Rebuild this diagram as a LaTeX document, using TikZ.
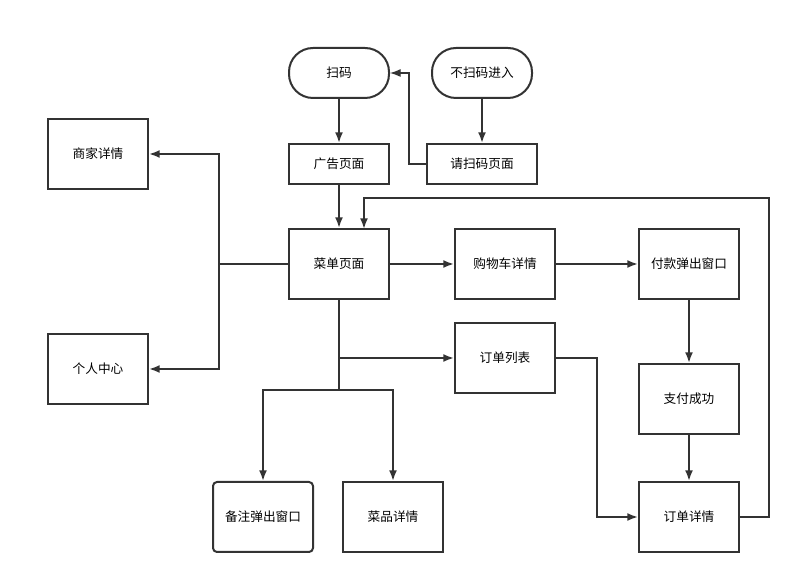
\documentclass[tikz,border=0pt]{standalone}
\usepackage{fontspec}
\setmainfont{Noto Sans CJK SC}
\usetikzlibrary{arrows.meta}

\begin{document}
\begin{tikzpicture}[x=0.75pt,y=-0.75pt,>={Latex[length=8pt,width=6pt]},
  font=\fontsize{9.5}{11}\selectfont]

\definecolor{linegray}{HTML}{333333}
\tikzset{
  box/.style={draw=linegray,line width=1.5pt,minimum width=75pt,minimum height=52.5pt,inner sep=0pt},
  thinbox/.style={box,minimum height=30pt},
  pill/.style={box,minimum height=37.5pt,rounded corners=18pt},
  link/.style={draw=linegray,line width=1.5pt,->},
  thinlink/.style={draw=linegray,line width=0.9pt,->}
}

\useasboundingbox (0,0) rectangle (801,584);

% nodes
\node[pill] (saoma) at (339,73) {扫码};
\node[pill] (busaoma) at (482,73) {不扫码进入};
\node[thinbox] (guanggao) at (339,164) {广告页面};
\node[thinbox,minimum width=82pt] (qingsao) at (482,164) {请扫码页面};
\node[box] (shangjia) at (98,154) {商家详情};
\node[box] (caidan) at (339,264) {菜单页面};
\node[box] (gouwuche) at (505,264) {购物车详情};
\node[box] (fukuan) at (689,264) {付款弹出窗口};
\node[box] (geren) at (98,369) {个人中心};
\node[box] (dingdanlb) at (505,358) {订单列表};
\node[box] (zhifu) at (689,399) {支付成功};
\node[box,rounded corners=3pt] (beizhu) at (263,517) {备注弹出窗口};
\node[box] (caipin) at (393,517) {菜品详情};
\node[box] (dingdanxq) at (689,517) {订单详情};

% connectors
\draw[link] (saoma) -- (guanggao);
\draw[link] (busaoma) -- (qingsao);
\draw[thinlink] (qingsao.west) -| (409,73) -- (saoma.east);
\draw[link] (guanggao) -- (caidan);

\coordinate (leftsplit) at (219,264);
\draw[draw=linegray,line width=1.5pt] (caidan.west) -- (leftsplit);
\draw[link] (leftsplit) |- (shangjia.east);
\draw[link] (leftsplit) |- (geren.east);

\draw[link] (caidan) -- (gouwuche);
\draw[link] (gouwuche) -- (fukuan);
\draw[link] (fukuan) -- (zhifu);
\draw[link] (zhifu) -- (dingdanxq);
\draw[link] (dingdanxq.east) -- (769,517) -- (769,198) -| (364,229);

\coordinate (downsplit) at (339,390);
\draw[draw=linegray,line width=1.5pt] (caidan.south) -- (downsplit);
\draw[link] (339,358) -- (dingdanlb.west);
\draw[link] (downsplit) -| (beizhu.north);
\draw[link] (downsplit) -| (caipin.north);
\draw[link] (dingdanlb.east) -- (597,358) |- (dingdanxq.west);

\end{tikzpicture}
\end{document}
